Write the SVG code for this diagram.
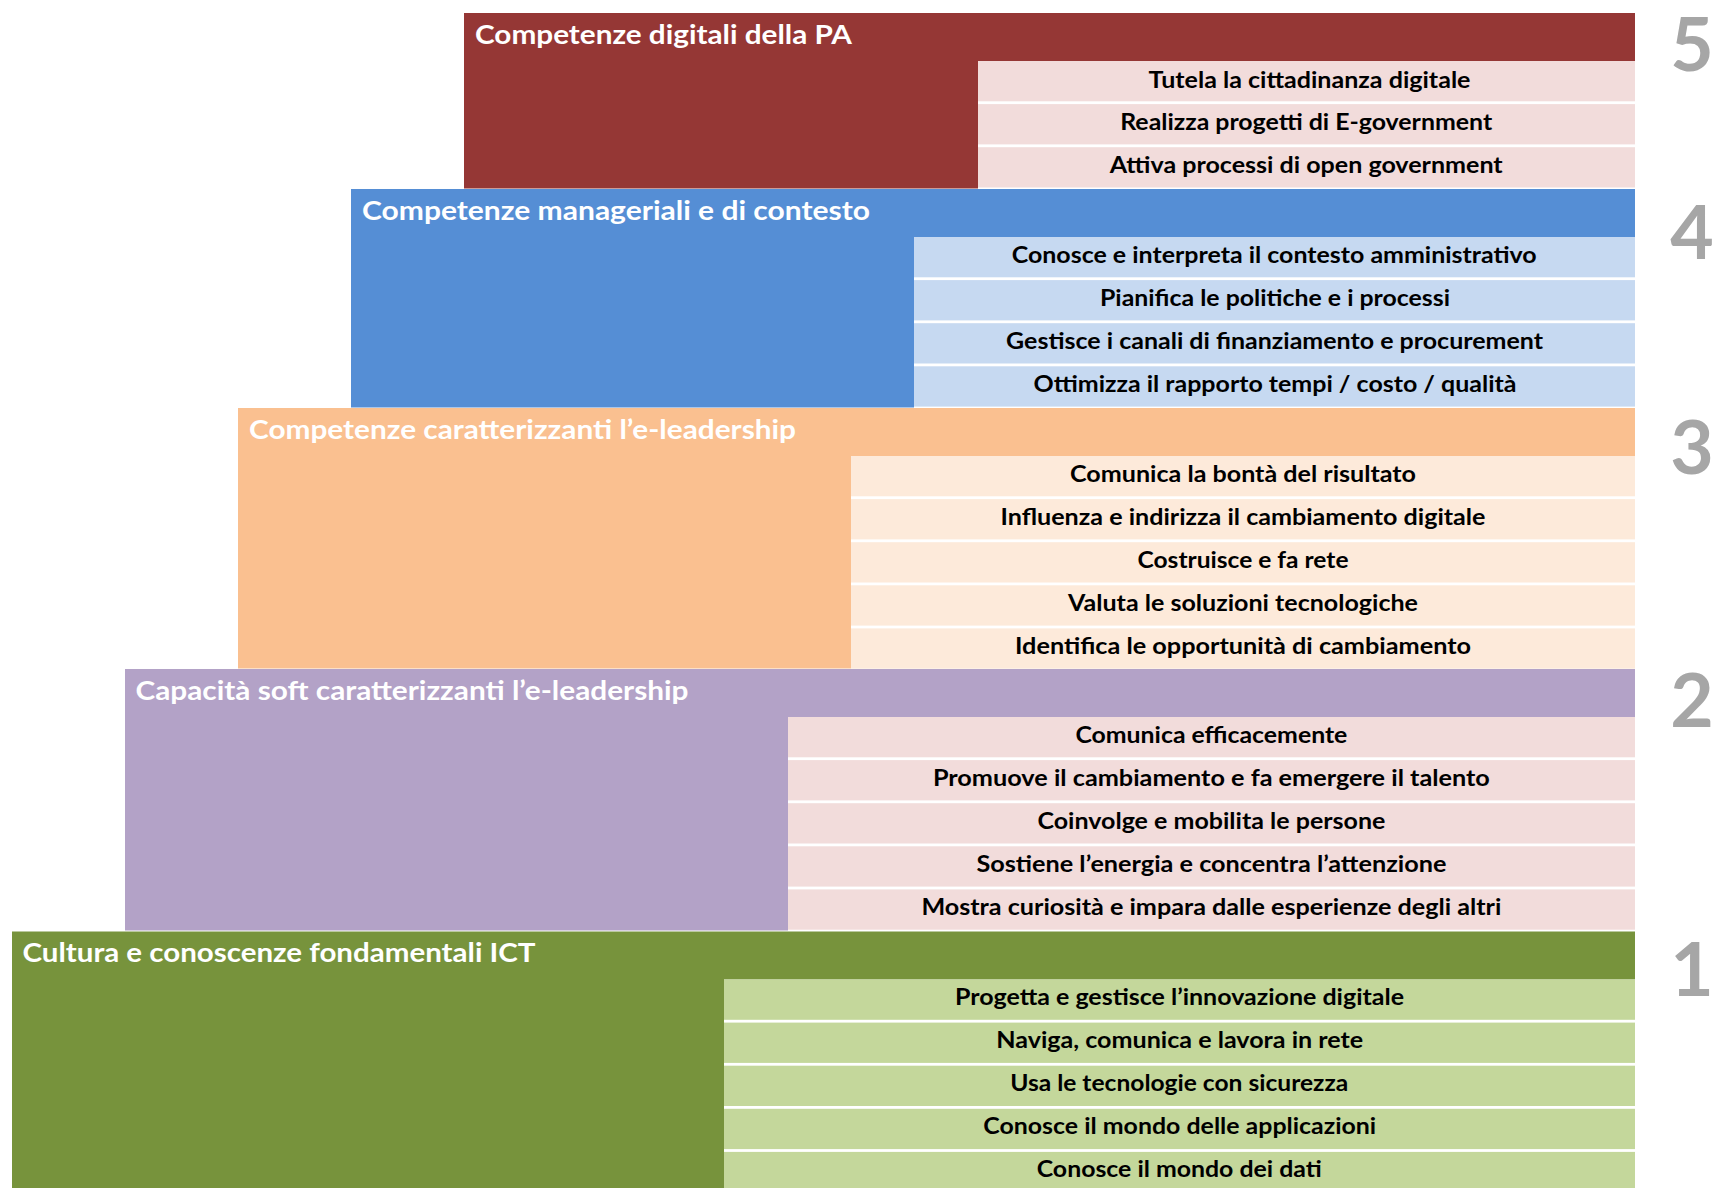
<svg xmlns="http://www.w3.org/2000/svg" width="1713" height="1188" viewBox="0 0 1713 1188">
<style>
.hdr{font-family:Lato,"Liberation Sans",Arial,sans-serif;font-weight:700;font-size:26px;fill:#FFFFFF}
.row{font-family:Lato,"Liberation Sans",Arial,sans-serif;font-weight:700;font-size:22px;fill:#000000;text-anchor:middle}
.num{font-family:Lato,"Liberation Sans",Arial,sans-serif;font-weight:700;font-size:75px;fill:#A6A6A6;text-anchor:middle}
.pink{fill:#F2DCDB}
.lblue{fill:#C6D9F1}
.lorange{fill:#FDEADA}
.lgreen{fill:#C4D79B}
</style>
<rect x="0" y="0" width="1713" height="1188" fill="#FFFFFF"/>

<g id="tier5">
<path d="M464,13 H1635 V61 H978 V188.5 H464 Z" fill="#953735"/>
<text class="hdr" x="475" y="43.5" textLength="377" lengthAdjust="spacingAndGlyphs">Competenze digitali della PA</text>
<g id="tier5-rows">
<rect class="pink" x="978" y="61" width="657" height="40.3"/>
<rect class="pink" x="978" y="104.1" width="657" height="40.3"/>
<rect class="pink" x="978" y="147.2" width="657" height="40.3"/>
<text class="row" x="1309.5" y="87.5" textLength="322" lengthAdjust="spacingAndGlyphs">Tutela la cittadinanza digitale</text>
<text class="row" x="1306.2" y="129.6" textLength="372" lengthAdjust="spacingAndGlyphs">Realizza progetti di E-government</text>
<text class="row" x="1306.2" y="172.7" textLength="393" lengthAdjust="spacingAndGlyphs">Attiva processi di open government</text>
</g>
<text class="num" x="1692" y="71">5</text>
</g>

<g id="tier4">
<path d="M351,189 H1635 V237 H914 V407.5 H351 Z" fill="#558ED5"/>
<text class="hdr" x="362" y="219.5" textLength="508" lengthAdjust="spacingAndGlyphs">Competenze manageriali e di contesto</text>
<g id="tier4-rows">
<rect class="lblue" x="914" y="237" width="721" height="40.3"/>
<rect class="lblue" x="914" y="280.1" width="721" height="40.3"/>
<rect class="lblue" x="914" y="323.2" width="721" height="40.3"/>
<rect class="lblue" x="914" y="366.3" width="721" height="40.3"/>
<text class="row" x="1274.2" y="262.5" textLength="525" lengthAdjust="spacingAndGlyphs">Conosce e interpreta il contesto amministrativo</text>
<text class="row" x="1275" y="305.6" textLength="350" lengthAdjust="spacingAndGlyphs">Pianifica le politiche e i processi</text>
<text class="row" x="1274.6" y="348.7" textLength="537" lengthAdjust="spacingAndGlyphs">Gestisce i canali di finanziamento e procurement</text>
<text class="row" x="1275" y="391.8" textLength="483" lengthAdjust="spacingAndGlyphs">Ottimizza il rapporto tempi / costo / qualità</text>
</g>
<text class="num" x="1692" y="259">4</text>
</g>

<g id="tier3">
<path d="M238,408 H1635 V456 H851 V668.5 H238 Z" fill="#FAC090"/>
<text class="hdr" x="249" y="438.5" textLength="547" lengthAdjust="spacingAndGlyphs">Competenze caratterizzanti l’e-leadership</text>
<g id="tier3-rows">
<rect class="lorange" x="851" y="456" width="784" height="40.3"/>
<rect class="lorange" x="851" y="499.1" width="784" height="40.3"/>
<rect class="lorange" x="851" y="542.2" width="784" height="40.3"/>
<rect class="lorange" x="851" y="585.3" width="784" height="40.3"/>
<rect class="lorange" x="851" y="628.4" width="784" height="40.3"/>
<text class="row" x="1243" y="481.5" textLength="346" lengthAdjust="spacingAndGlyphs">Comunica la bontà del risultato</text>
<text class="row" x="1243" y="524.6" textLength="485" lengthAdjust="spacingAndGlyphs">Influenza e indirizza il cambiamento digitale</text>
<text class="row" x="1243" y="567.7" textLength="211" lengthAdjust="spacingAndGlyphs">Costruisce e fa rete</text>
<text class="row" x="1243" y="610.8" textLength="350" lengthAdjust="spacingAndGlyphs">Valuta le soluzioni tecnologiche</text>
<text class="row" x="1243" y="653.9" textLength="456" lengthAdjust="spacingAndGlyphs">Identifica le opportunità di cambiamento</text>
</g>
<text class="num" x="1692" y="474">3</text>
</g>

<g id="tier2">
<path d="M125,669 H1635 V717 H788 V930.5 H125 Z" fill="#B3A2C7"/>
<text class="hdr" x="135.5" y="699.5" textLength="553" lengthAdjust="spacingAndGlyphs">Capacità soft caratterizzanti l’e-leadership</text>
<g id="tier2-rows">
<rect class="pink" x="788" y="717" width="847" height="40.3"/>
<rect class="pink" x="788" y="760.1" width="847" height="40.3"/>
<rect class="pink" x="788" y="803.2" width="847" height="40.3"/>
<rect class="pink" x="788" y="846.3" width="847" height="40.3"/>
<rect class="pink" x="788" y="889.4" width="847" height="40.3"/>
<text class="row" x="1211.4" y="742.5" textLength="272" lengthAdjust="spacingAndGlyphs">Comunica efficacemente</text>
<text class="row" x="1211.4" y="785.6" textLength="557" lengthAdjust="spacingAndGlyphs">Promuove il cambiamento e fa emergere il talento</text>
<text class="row" x="1211.4" y="828.7" textLength="348" lengthAdjust="spacingAndGlyphs">Coinvolge e mobilita le persone</text>
<text class="row" x="1211.4" y="871.8" textLength="470" lengthAdjust="spacingAndGlyphs">Sostiene l’energia e concentra l’attenzione</text>
<text class="row" x="1211.4" y="914.9" textLength="580" lengthAdjust="spacingAndGlyphs">Mostra curiosità e impara dalle esperienze degli altri</text>
</g>
<text class="num" x="1692" y="727">2</text>
</g>

<g id="tier1">
<path d="M12,931.5 H1635 V979.5 H724 V1188 H12 Z" fill="#77933C"/>
<text class="hdr" x="22.5" y="962" textLength="513" lengthAdjust="spacingAndGlyphs">Cultura e conoscenze fondamentali ICT</text>
<g id="tier1-rows">
<rect class="lgreen" x="724" y="979.5" width="911" height="40.3"/>
<rect class="lgreen" x="724" y="1022.6" width="911" height="40.3"/>
<rect class="lgreen" x="724" y="1065.7" width="911" height="40.3"/>
<rect class="lgreen" x="724" y="1108.8" width="911" height="40.3"/>
<rect class="lgreen" x="724" y="1151.9" width="911" height="40.3"/>
<text class="row" x="1179.5" y="1005" textLength="449" lengthAdjust="spacingAndGlyphs">Progetta e gestisce l’innovazione digitale</text>
<text class="row" x="1179.7" y="1048.1" textLength="367" lengthAdjust="spacingAndGlyphs">Naviga, comunica e lavora in rete</text>
<text class="row" x="1179.2" y="1091.2" textLength="338" lengthAdjust="spacingAndGlyphs">Usa le tecnologie con sicurezza</text>
<text class="row" x="1179.7" y="1134.3" textLength="393" lengthAdjust="spacingAndGlyphs">Conosce il mondo delle applicazioni</text>
<text class="row" x="1179.2" y="1177.4" textLength="285" lengthAdjust="spacingAndGlyphs">Conosce il mondo dei dati</text>
</g>
<text class="num" x="1692" y="996">1</text>
</g>
</svg>
